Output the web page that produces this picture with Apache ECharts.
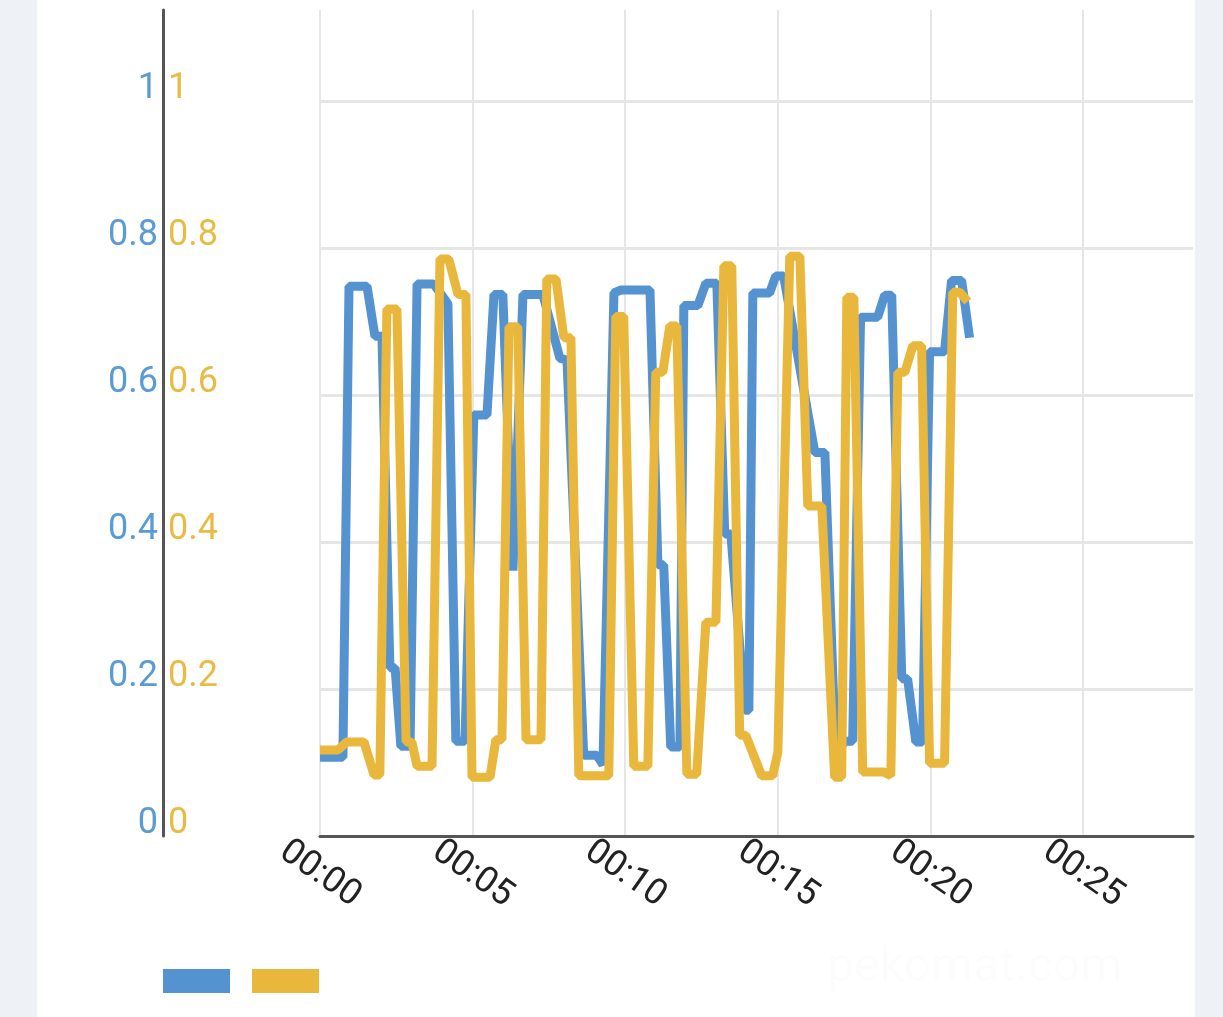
<!DOCTYPE html>
<html>
<head>
<meta charset="utf-8">
<script src="https://cdn.jsdelivr.net/npm/echarts@6/dist/echarts.min.js"></script>
<style>
  html, body { margin: 0; padding: 0; background: #eef1f5; width: 1223px; height: 1017px; overflow: hidden; }
  #c { position: absolute; left: 37px; top: 0; width: 1158px; height: 1017px; background: #ffffff; }
</style>
</head>
<body>
<div id="c"></div>
<script>
// time in minutes, values 0..1
const blueTimes = [0.00,0.75,0.95,1.54,1.80,2.03,2.29,2.46,2.65,2.95,3.18,3.73,4.19,4.45,4.75,5.04,5.47,5.70,5.99,6.32,6.65,7.30,7.86,8.09,8.64,9.07,9.27,9.63,9.86,10.81,11.07,11.26,11.49,11.79,11.92,12.38,12.64,13.00,13.26,13.46,13.92,14.05,14.18,14.73,14.93,15.19,16.21,16.54,16.90,17.16,17.45,17.71,18.27,18.50,18.73,19.06,19.25,19.52,19.74,19.97,20.46,20.69,21.02,21.28];
const blueValues = [0.107,0.107,0.748,0.748,0.680,0.680,0.229,0.229,0.122,0.122,0.751,0.751,0.724,0.129,0.129,0.573,0.573,0.737,0.737,0.361,0.737,0.737,0.650,0.648,0.110,0.110,0.097,0.739,0.743,0.743,0.369,0.369,0.121,0.121,0.722,0.722,0.752,0.752,0.411,0.411,0.171,0.171,0.739,0.739,0.762,0.762,0.522,0.522,0.101,0.129,0.129,0.706,0.706,0.736,0.736,0.214,0.214,0.128,0.128,0.659,0.659,0.756,0.756,0.678];
const yellowTimes = [0.00,0.59,0.88,1.44,1.77,1.96,2.19,2.52,2.82,3.01,3.18,3.67,3.93,4.22,4.52,4.78,4.98,5.57,5.76,5.96,6.19,6.48,6.75,7.24,7.43,7.73,7.99,8.22,8.48,9.46,9.69,9.95,10.28,10.74,11.00,11.23,11.46,11.69,12.02,12.34,12.64,12.97,13.23,13.49,13.75,13.95,14.47,14.83,15.00,15.39,15.72,15.98,16.44,16.86,17.09,17.26,17.49,17.78,18.47,18.70,18.93,19.16,19.42,19.71,19.97,20.46,20.73,20.96,21.22];
const yellowValues = [0.117,0.117,0.128,0.128,0.083,0.083,0.717,0.717,0.128,0.128,0.095,0.095,0.785,0.785,0.737,0.737,0.080,0.080,0.131,0.131,0.693,0.693,0.131,0.131,0.758,0.758,0.678,0.678,0.082,0.082,0.707,0.707,0.095,0.095,0.631,0.631,0.694,0.694,0.084,0.084,0.291,0.291,0.776,0.776,0.137,0.137,0.082,0.082,0.114,0.789,0.789,0.449,0.449,0.080,0.080,0.733,0.733,0.087,0.087,0.082,0.631,0.631,0.667,0.667,0.099,0.099,0.740,0.740,0.727];
const xTickStep = 5;
const yTickStep = 0.2;

const BLUE = '#5592d0';
const YELLOW = '#e8b73c';
const BLUE_LABEL = '#5b9bd5';
const YELLOW_LABEL = '#e9bb45';

function zip(a, b) { return a.map((t, i) => [t, b[i]]); }
function yFmt(v) {
  const k = v / yTickStep;
  if (Math.abs(k - Math.round(k)) > 1e-6) return '';
  return String(+v.toFixed(1));
}
function xFmt(v) {
  if (Math.abs(v / xTickStep - Math.round(v / xTickStep)) > 1e-6) return '';
  return '00:' + String(Math.round(v)).padStart(2, '0');
}

const chart = echarts.init(document.getElementById('c'), null, { renderer: 'canvas' });
chart.setOption({
  animation: false,
  backgroundColor: '#ffffff',
  textStyle: { fontFamily: 'Roboto' },
  grid: { left: 283, right: 2, top: 10, bottom: 181, containLabel: false },
  legend: {
    left: 126, top: 969, padding: 0,
    icon: 'rect', itemWidth: 67, itemHeight: 24, itemGap: 22,
    formatter: () => '',
    data: ['Series A', 'Series B'],
    selectedMode: false
  },
  graphic: [{
    type: 'text', left: 790, top: 945, silent: true,
    style: { text: 'pekomat.com', fill: 'rgba(0,0,0,0.012)', font: '48px Roboto' }
  }],
  xAxis: {
    type: 'value', min: 0, max: 28.6, interval: xTickStep,
    axisLine: { show: true, onZero: false, lineStyle: { color: '#555555', width: 3 } },
    axisTick: { show: false },
    axisLabel: {
      formatter: xFmt, rotate: -35, color: '#222222', fontSize: 36, fontFamily: 'Roboto',
      align: 'center', verticalAlign: 'middle', margin: 38, showMaxLabel: false
    },
    splitLine: { show: true, showMaxLine: false, lineStyle: { color: '#e6e6e6', width: 2 } }
  },
  yAxis: [{
    type: 'value', min: 0, max: 1.124, interval: yTickStep, position: 'left', offset: 157,
    axisLine: { show: true, onZero: false, lineStyle: { color: '#555555', width: 3 } },
    axisTick: { show: false },
    axisLabel: { formatter: yFmt, color: BLUE_LABEL, fontSize: 36, fontFamily: 'Roboto', margin: 5, verticalAlign: 'bottom', lineHeight: 24, showMaxLabel: false },
    splitLine: { show: true, showMaxLine: false, lineStyle: { color: '#e6e6e6', width: 3 } }
  }, {
    type: 'value', min: 0, max: 1.124, interval: yTickStep, position: 'left', offset: 157,
    axisLine: { show: false, onZero: false },
    axisTick: { show: false },
    axisLabel: { inside: true, formatter: yFmt, color: YELLOW_LABEL, fontSize: 36, fontFamily: 'Roboto', margin: 5, verticalAlign: 'bottom', lineHeight: 24, showMaxLabel: false },
    splitLine: { show: false }
  }],
  series: [{
    name: 'Series A', type: 'line', yAxisIndex: 0, showSymbol: false, symbol: 'none',
    color: BLUE, lineStyle: { color: BLUE, width: 9 },
    data: zip(blueTimes, blueValues)
  }, {
    name: 'Series B', type: 'line', yAxisIndex: 1, showSymbol: false, symbol: 'none',
    color: YELLOW, lineStyle: { color: YELLOW, width: 9 },
    data: zip(yellowTimes, yellowValues)
  }]
});
</script>
</body>
</html>
